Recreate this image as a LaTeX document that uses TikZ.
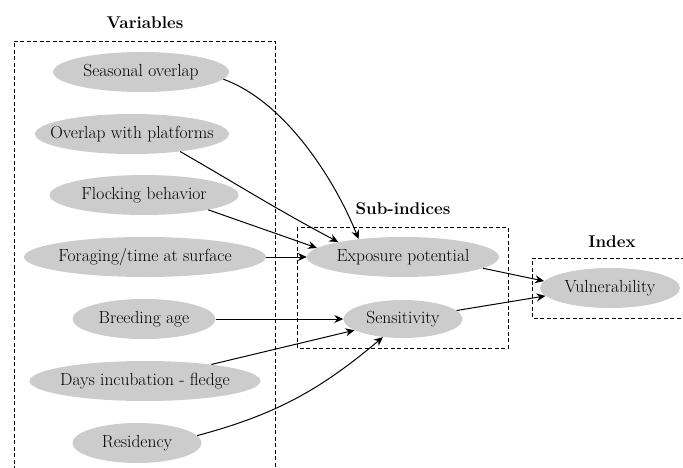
\documentclass[tikz,border=0pt]{standalone}
\usepackage{fontspec}
\usepackage{tikz}
\usetikzlibrary{shapes.geometric}
\usetikzlibrary{arrows.meta}

\tikzset{
    varell/.style={ellipse, fill=black!20, inner xsep=-40pt, inner ysep=0pt, minimum height=40pt,
        font=\fontsize{17.5}{20}\selectfont},
    grouptitle/.style={font=\fontsize{17}{20}\selectfont\bfseries},
    groupbox/.style={dash pattern=on 4pt off 2.5pt, line width=0.9pt},
    link/.style={-{Stealth[length=9pt,width=8pt,inset=3pt]}, line width=1pt}
}

\begin{document}
\begin{tikzpicture}[x=1pt,y=1pt]
    \useasboundingbox (0,0) rectangle (683,-468);

    % groups
    \draw[groupbox] (14,-470) |- (275,-41) -- (275,-470);
    \draw[groupbox] (297,-227) rectangle (508,-348);
    \draw[groupbox] (685,-258) -| (532,-318) -- (685,-318);
    \node[grouptitle] (vartitle) at (145,-23) {Variables};
    \node[grouptitle] (subtitle) at (403,-209) {Sub-indices};
    \node[grouptitle] (idxtitle) at (612,-242) {Index};

    % variables
    \node[varell, minimum width=176pt] (seas) at (141,-72) {Seasonal overlap};
    \node[varell, minimum width=194pt] (ovl) at (132,-134) {Overlap with platforms};
    \node[varell, minimum width=189pt] (flk) at (144,-195) {Flocking behavior};
    \node[varell, minimum width=242pt] (frg) at (145,-257) {Foraging/time at surface};
    \node[varell, minimum width=143pt] (brd) at (144,-319) {Breeding age};
    \node[varell, minimum width=231pt] (dys) at (145,-381) {Days incubation - fledge};
    \node[varell, minimum width=129pt] (res) at (137,-443) {Residency};

    % sub-indices and index
    \node[varell, minimum width=192pt] (exp) at (403,-257) {Exposure potential};
    \node[varell, minimum width=119pt, minimum height=38pt] (sen) at (403,-319) {Sensitivity};
    \node[varell, minimum width=140pt] (vul) at (610,-288) {Vulnerability};

    \draw[link] (seas.-5) to[out=-20, in=112, looseness=0.8] (exp.158);
    \draw[link] (ovl.-20) to[out=-30, in=152] (exp.167);
    \draw[link] (flk.-13) -- (exp.174);
    \draw[link] (frg.east) -- (exp.west);
    \draw[link] (brd.east) -- (sen.west);
    \draw[link] (dys.14) -- (sen.193);
    \draw[link] (res.7) to[out=15, in=220] (sen.222);
    \draw[link] (exp.-8) -- (vul.174);
    \draw[link] (sen.9) -- (vul.187);
\end{tikzpicture}
\end{document}
